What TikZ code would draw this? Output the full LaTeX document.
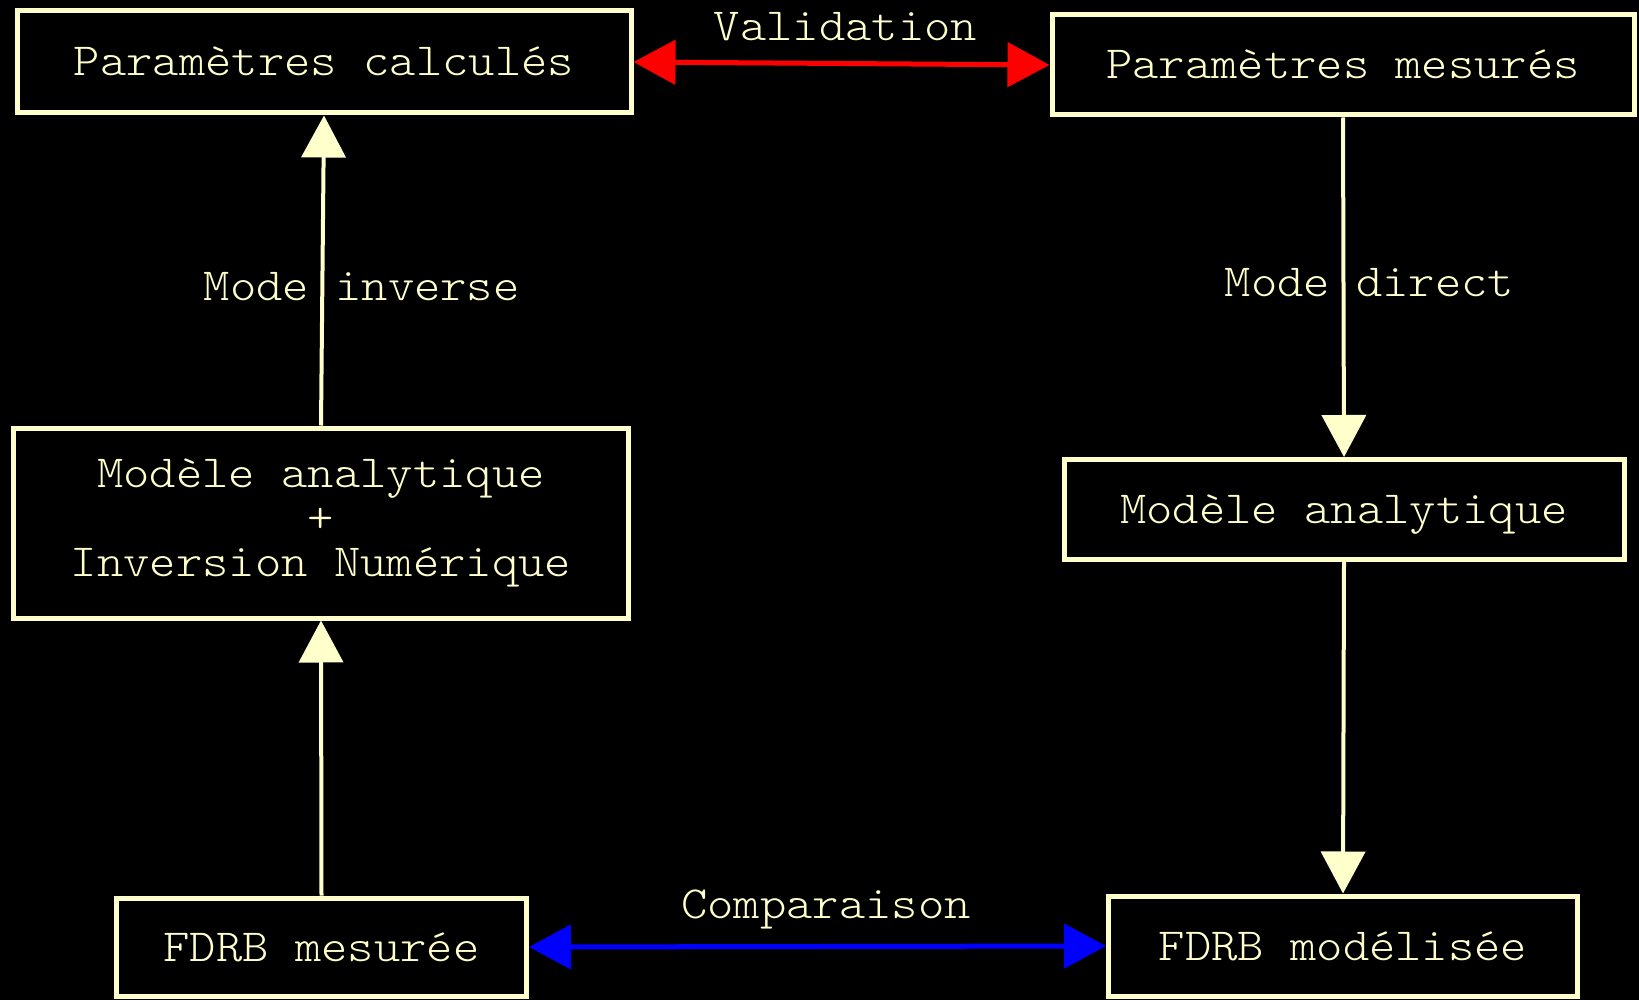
\documentclass[tikz,border=0pt]{standalone}
\usepackage{fontspec}
\newfontfamily\diafont{lmmonolt10-regular}[Extension=.otf, FakeStretch=1.09]
\usetikzlibrary{arrows.meta}
\definecolor{cream}{RGB}{255,255,204}
\definecolor{vred}{RGB}{255,0,0}
\definecolor{vblue}{RGB}{0,0,255}
\begin{document}
\begin{tikzpicture}[x=0.5pt,y=-0.5pt,
  txt/.style={font=\diafont\fontsize{23}{22.2}\selectfont, text=cream},
  box/.style={txt, draw=cream, line width=2.5pt, inner sep=0pt, align=center},
  onebox/.style={box, text height=14pt, text depth=0pt},
  lbl/.style={txt, inner sep=0pt, anchor=base},
  conn/.style={draw=cream, line width=2pt, -{Triangle[width=22pt,length=21pt]}},
  dbl/.style={line width=2.5pt, {Triangle[width=22pt,length=21pt]}-{Triangle[width=22pt,length=21pt]}}
]
\fill[black] (0,0) rectangle (1639,1000);
\useasboundingbox (0,0) rectangle (1639,1000);

\node[onebox, minimum width=307pt, minimum height=51pt] (b1) at (324,62) {Paramètres calculés};
\node[onebox, minimum width=291pt, minimum height=50pt] (b2) at (1343,65) {Paramètres mesurés};
\node[box, minimum width=307.5pt, minimum height=95pt] (b3) at (321,523) {Modèle analytique\\+\\Inversion Numérique};
\node[onebox, minimum width=280pt, minimum height=50pt] (b4) at (1344,509.5) {Modèle analytique};
\node[onebox, minimum width=205pt, minimum height=49pt] (b5) at (321.5,947) {FDRB mesurée};
\node[onebox, minimum width=234.5pt, minimum height=50pt] (b6) at (1343,946) {FDRB modélisée};

\draw[conn] (b5.north) -- (b3.south);
\draw[conn] (b3.north) -- (b1.south);
\draw[conn] (b2.south) -- (b4.north);
\draw[conn] (b4.south) -- (b6.north);
\draw[dbl, draw=vred, fill=vred] (b1.east) -- (b2.west);
\draw[dbl, draw=vblue, fill=vblue] (b5.east) -- (b6.west);

\node[lbl] (lv) at (845.6,41) {Validation};
\node[lbl] (li) at (361.7,301) {Mode inverse};
\node[lbl] (ld) at (1369.5,297) {Mode direct};
\node[lbl] (lc) at (826,918) {Comparaison};
\end{tikzpicture}
\end{document}
